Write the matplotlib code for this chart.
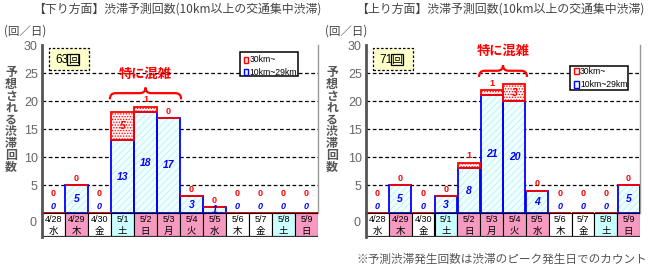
import matplotlib
matplotlib.use("Agg")
import matplotlib.pyplot as plt
from matplotlib.patches import Rectangle
from matplotlib.path import Path
from matplotlib.patches import PathPatch

plt.rcParams['font.family'] = ['Liberation Sans', 'Noto Sans CJK JP']
plt.rcParams['hatch.linewidth'] = 0.6

# data
dates = ["4/28", "4/29", "4/30", "5/1", "5/2", "5/3", "5/4", "5/5", "5/6", "5/7", "5/8", "5/9"]
weekdays = ["水", "木", "金", "土", "日", "月", "火", "水", "木", "金", "土", "日"]
day_type = ["weekday", "holiday", "weekday", "saturday", "holiday", "holiday",
            "holiday", "holiday", "weekday", "weekday", "saturday", "holiday"]

down_10_29 = [0, 5, 0, 13, 18, 17, 3, 1, 0, 0, 0, 0]
down_30 = [0, 0, 0, 5, 1, 0, 0, 0, 0, 0, 0, 0]
up_10_29 = [0, 5, 0, 3, 8, 21, 20, 4, 0, 0, 0, 5]
up_30 = [0, 0, 0, 0, 1, 1, 3, 0, 0, 0, 0, 0]

down_busy = (3, 5)
up_busy = (5, 6)

W, H = 650, 274
day_colors = {"weekday": "white", "holiday": "#F79AC2", "saturday": "#CCFFFF"}
BLUE = "#0000FF"
RED = "#FF0000"
GRAY = "#555555"


def fx(px):
    return px / W


def fy(py):
    return 1 - py / H


fig = plt.figure(figsize=(6.5, 2.74), dpi=100)


def panel(x0, x1, short, long_, title, busy, brace_y, leg_box, leg_rows, lx):
    ax = fig.add_axes([fx(x0), fy(213), fx(x1 - x0), 168 / H])
    tab = fig.add_axes([fx(x0), fy(237), fx(x1 - x0), 24 / H])
    n = len(short)
    xs = list(range(n))
    ax.set_xlim(-0.5, n - 0.5)
    ax.set_ylim(0, 30)
    ax.set_xticks([])
    ax.set_yticks([5, 10, 15, 20, 25, 30])
    ax.tick_params(axis='y', length=0, pad=3, labelsize=9, labelcolor="#666666")
    for v in [5, 10, 15, 20, 25]:
        ax.axhline(v, color="black", lw=0.9, ls=(0, (3, 2)), zorder=1)
    for s in ["top", "bottom"]:
        ax.spines[s].set_visible(False)
    ax.spines["left"].set_color(GRAY)
    ax.spines["left"].set_linewidth(2)
    ax.spines["right"].set_color("#999999")
    ax.spines["right"].set_linewidth(1)

    # bars
    ax.bar(xs, short, width=0.97, color="#F0FFFF", edgecolor="#BDEEF5",
           hatch="/////", lw=0, zorder=2)
    ax.bar(xs, short, width=0.97, fill=False, edgecolor=BLUE, lw=1.3, zorder=3)
    ax.bar(xs, long_, bottom=short, width=0.97, color="#FFF0F0", edgecolor=RED,
           hatch="......", lw=0, zorder=2)
    ax.bar(xs, long_, bottom=short, width=0.97, fill=False, edgecolor=RED, lw=1.3, zorder=3)

    # value labels
    for i in xs:
        s, l = short[i], long_[i]
        tot = s + l
        if s > 0:
            ax.text(i, s / 2, str(s), color=BLUE, fontsize=7.5, style="italic",
                    weight="bold", ha="center", va="center", zorder=4)
        else:
            ax.text(i, 1.2, "0", color=BLUE, fontsize=6.5, style="italic",
                    weight="bold", ha="center", va="center", zorder=4)
        if l >= 2:
            ax.text(i, s + l / 2, str(l), color=RED, fontsize=7.5, style="italic",
                    weight="bold", ha="center", va="center", zorder=4)
        elif tot == 0:
            ax.text(i, 3.4, str(l), color=RED, fontsize=6.5, weight="bold",
                    ha="center", va="center", zorder=4)
        else:
            ax.text(i, tot + 1.2, str(l), color=RED, fontsize=6.5, weight="bold",
                    ha="center", va="center", zorder=4)

    # total box
    ax.add_patch(Rectangle((0.025, 0.851), 0.145, 0.131, transform=ax.transAxes,
                           facecolor="#FFFFCC", edgecolor="black", lw=0.9,
                           ls=(0, (2, 1.5)), zorder=5))
    ax.text(0.048, 0.913, str(sum(short) + sum(long_)), transform=ax.transAxes,
            fontsize=8.5, ha="left", va="center", zorder=6)
    ax.text(0.113, 0.913, "回", transform=ax.transAxes, fontsize=8, ha="center",
            va="center", zorder=6,
            bbox=dict(boxstyle="square,pad=0.05", fc="none", ec="black", lw=0.9))

    # legend
    bl, bb, bw, bh = leg_box
    ax.add_patch(Rectangle((bl, bb), bw, bh, transform=ax.transAxes,
                           facecolor="white", edgecolor="black", lw=1.1, zorder=5))
    for (yy, lab, fc, ec) in [(leg_rows[0], "30km~", "#FFEEEE", RED),
                              (leg_rows[1], "10km~29km", "#EAFFFF", BLUE)]:
        ax.add_patch(Rectangle((bl + 0.015, yy - 0.02), 0.016, 0.04,
                               transform=ax.transAxes, facecolor=fc,
                               edgecolor=ec, lw=1, zorder=6))
        ax.text(bl + 0.036, yy, lab, transform=ax.transAxes, fontsize=6.2,
                ha="left", va="center", zorder=6)

    # brace + label
    b0, b1 = busy[0] - 0.55, busy[1] + 0.55
    bm = (b0 + b1) / 2
    r = 0.25
    yh, yb, yt = brace_y, brace_y - 1.1, brace_y + 1.0
    verts = [(b0, yb), (b0, yh), (b0 + r, yh), (bm - r, yh), (bm, yh), (bm, yt),
             (bm, yh), (bm + r, yh), (b1 - r, yh), (b1, yh), (b1, yb)]
    codes = [Path.MOVETO, Path.CURVE3, Path.CURVE3, Path.LINETO, Path.CURVE3,
             Path.CURVE3, Path.CURVE3, Path.CURVE3, Path.LINETO, Path.CURVE3, Path.CURVE3]
    ax.add_patch(PathPatch(Path(verts, codes), fill=False, edgecolor=RED, lw=1.6,
                           zorder=6, clip_on=False))
    ax.text(bm, brace_y + 3.5, "特に混雑", color=RED, fontsize=9.5, weight="bold",
            family=["Noto Sans CJK JP"], ha="center", va="center", zorder=6)

    # date table
    tab.set_xlim(-0.5, n - 0.5)
    tab.set_ylim(0, 1)
    tab.set_xticks([])
    tab.set_yticks([])
    for s in ["top", "bottom", "right"]:
        tab.spines[s].set_visible(False)
    tab.spines["left"].set_color(GRAY)
    tab.spines["left"].set_linewidth(2)
    for i in xs:
        tab.add_patch(Rectangle((i - 0.5, 0), 1, 1, facecolor=day_colors[day_type[i]],
                                edgecolor="black", lw=0.8))
        tab.text(i, 0.73, dates[i], fontsize=6.5, ha="center", va="center")
        tab.text(i, 0.24, weekdays[i], fontsize=6.8, ha="center", va="center",
                 family=["Noto Sans CJK JP"])
    tab.axhline(0, color="#333333", lw=1.6)
    tab.text(-0.5 - 0.25, 0.58, "0", fontsize=9, color="#666666", ha="right", va="center")

    # texts around
    fig.text(fx((x0 + x1) / 2 - 3), fy(9), title, fontsize=8.6, color="#444444",
             ha="center", va="center", family=["Noto Sans CJK JP"])
    fig.text(fx(lx + 4), fy(31), "(回／日)", fontsize=8.3, color="#444444",
             ha="left", va="center", family=["Noto Sans CJK JP"])
    fig.text(fx(lx + 11), fy(120), "\n".join("予想される渋滞回数"), fontsize=8.6,
             color=GRAY, weight="bold", ha="center", va="center", linespacing=0.88,
             family=["Noto Sans CJK JP"])


panel(42, 318, down_10_29, down_30, "【下り方面】渋滞予測回数(10km以上の交通集中渋滞)",
      down_busy, 21.4, (0.717, 0.815, 0.211, 0.143), (0.911, 0.839), 0)
panel(366, 640, up_10_29, up_30, "【上り方面】渋滞予測回数(10km以上の交通集中渋滞)",
      up_busy, 25.4, (0.745, 0.732, 0.211, 0.143), (0.845, 0.766), 321)

fig.text(fx(647), fy(259), "※予測渋滞発生回数は渋滞のピーク発生日でのカウント",
         fontsize=8.4, color="#555555", ha="right", va="center",
         family=["Noto Sans CJK JP"])

fig.savefig("out.png", dpi=100)
